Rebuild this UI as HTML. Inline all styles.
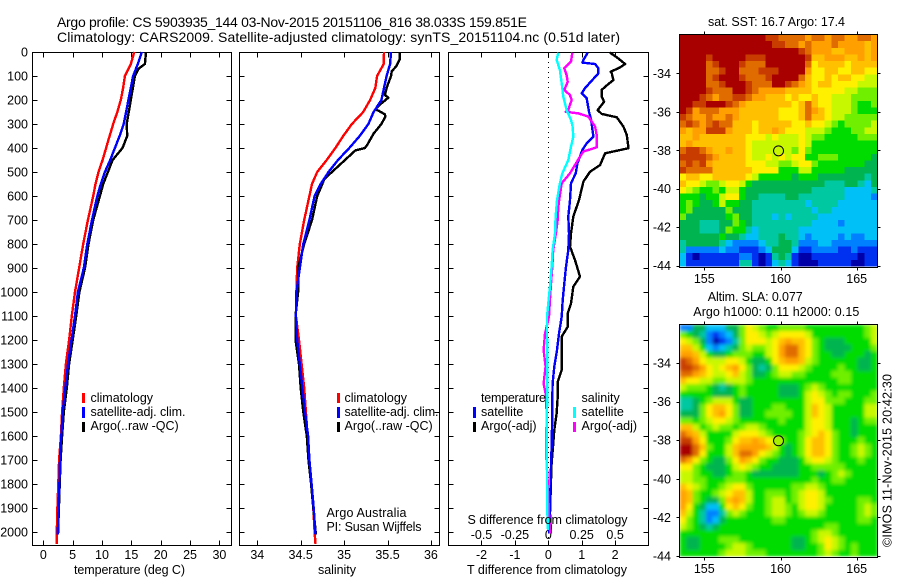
<!DOCTYPE html>
<html lang="en">
<head>
<meta charset="utf-8">
<title>Argo profile CS 5903935_144</title>
<style>
html,body{margin:0;padding:0;background:#fff;}
svg{display:block;font-family:"Liberation Sans",sans-serif;font-size:12.5px;fill:#000;}
.frame{fill:none;stroke:#000;stroke-width:1;shape-rendering:crispEdges;}
.tick{stroke:#000;stroke-width:1;shape-rendering:crispEdges;}
.line{fill:none;stroke-width:2.4;shape-rendering:crispEdges;stroke-linejoin:round;}
text{stroke:none;}
</style>
</head>
<body>
<svg id="chart" width="900" height="580" viewBox="0 0 900 580" xmlns="http://www.w3.org/2000/svg">
<defs>
<clipPath id="clip-sla"><rect x="679.5" y="324.5" width="198" height="232"/></clipPath>
<clipPath id="clip-sst"><rect x="679.5" y="34.5" width="198" height="232"/></clipPath>
<filter id="smooth" x="-5%" y="-5%" width="110%" height="110%"><feGaussianBlur stdDeviation="1.9" edgeMode="duplicate"/></filter>
</defs>
<text x="57" y="27" textLength="470" font-size="14">Argo profile: CS 5903935_144 03-Nov-2015 20151106_816 38.033S 159.851E</text>
<text x="57" y="42" textLength="563" font-size="14">Climatology: CARS2009. Satellite-adjusted climatology: synTS_20151104.nc (0.51d later)</text>

<g id="panel-temp"></g>
<g id="panel-sal"></g>
<g id="panel-diff"></g>
<g id="map-sst"></g>
<g id="map-sla"></g>

<text x="74" y="574" textLength="111">temperature (deg C)</text>
<text x="318" y="574" textLength="38">salinity</text>
<text x="467" y="574" textLength="160">T difference from climatology</text>
<text x="467.5" y="524" textLength="160">S difference from climatology</text>

<rect x="82" y="393" width="3" height="10" fill="#f00"/>
<text x="90.5" y="402">climatology</text>
<rect x="82" y="407" width="3" height="11" fill="#00f"/>
<text x="90.5" y="416" textLength="95">satellite-adj. clim.</text>
<rect x="82" y="422" width="3" height="10" fill="#000"/>
<text x="90.5" y="430">Argo(..raw -QC)</text>

<rect x="337" y="393" width="3" height="10" fill="#f00"/>
<text x="344.5" y="402">climatology</text>
<rect x="337" y="407" width="3" height="11" fill="#00f"/>
<text x="344.5" y="416" textLength="94">satellite-adj. clim.</text>
<rect x="337" y="422" width="3" height="10" fill="#000"/>
<text x="344.5" y="430">Argo(..raw -QC)</text>
<text x="326.5" y="517" textLength="80">Argo Australia</text>
<text x="326.5" y="531" textLength="95">PI: Susan Wijffels</text>

<text x="481" y="402" textLength="65">temperature</text>
<rect x="473" y="407" width="3" height="11" fill="#00f"/>
<text x="481" y="416">satellite</text>
<rect x="473" y="422" width="3" height="10" fill="#000"/>
<text x="481" y="430">Argo(-adj)</text>
<text x="581.5" y="402">salinity</text>
<rect x="573" y="407" width="3" height="11" fill="#0ff"/>
<text x="581.5" y="416">satellite</text>
<rect x="573" y="422" width="3" height="10" fill="#f0f"/>
<text x="581.5" y="430">Argo(-adj)</text>

<text x="708" y="26" textLength="137">sat. SST: 16.7  Argo: 17.4</text>
<text x="707.7" y="301" textLength="95">Altim. SLA: 0.077</text>
<text x="693.3" y="316" textLength="166">Argo h1000: 0.11  h2000: 0.15</text>
<text transform="translate(891.5,547) rotate(-90)" textLength="173">©IMOS 11-Nov-2015 20:42:30</text>
</svg>
<script>
const tickDepths = [0,100,200,300,400,500,600,700,800,900,1000,1100,1200,1300,1400,1500,1600,1700,1800,1900,2000];
const tempTicks = [0,5,10,15,20,25,30];
const salTicks = [34,34.5,35,35.5,36];
const salTickLabels = ['34','34.5','35','35.5','36'];
const diffTTicks = [-2,-1,0,1,2];
const diffSTicks = [-0.5,-0.25,0,0.25,0.5];
const diffSTickLabels = ['-0.5','-0.25','0','0.25','0.5'];
const lonTicks = [155,160,165];
const latTicks = [-34,-36,-38,-40,-42,-44];

const climDepth = [0,50,100,150,200,250,300,350,400,450,500,550,600,700,800,900,1000,1100,1200,1300,1400,1500,1600,1700,1800,1900,2000,2050];
const climTemp = [15.5,14.9,13.9,13.6,13.2,12.6,11.9,11.3,10.7,10.1,9.4,8.9,8.5,7.6,6.8,6.1,5.4,4.85,4.4,3.85,3.5,3.2,3.0,2.7,2.55,2.4,2.3,2.3];
const climSal = [35.46,35.456,35.38,35.36,35.30,35.22,35.09,34.99,34.90,34.80,34.69,34.63,34.60,34.54,34.49,34.46,34.45,34.445,34.48,34.51,34.54,34.56,34.58,34.60,34.62,34.645,34.66,34.67];

const satDepth = [0,50,100,150,200,250,300,350,400,450,500,550,600,700,800,900,1000,1100,1200,1300,1400,1500,1600,1700,1800,1900,2010];
const satTemp = [16.8,16.1,15.3,14.9,14.5,14.1,13.7,13.0,12.2,11.4,10.5,9.8,9.2,8.3,7.5,6.9,5.9,5.4,4.8,4.2,3.75,3.3,3.07,2.85,2.75,2.6,2.45];
const satSal = [35.54,35.53,35.49,35.46,35.43,35.34,35.28,35.18,35.06,34.93,34.82,34.73,34.66,34.60,34.53,34.49,34.45,34.445,34.46,34.49,34.52,34.55,34.585,34.60,34.625,34.65,34.67];

const argoTempDepth = [0,50,70,100,200,300,350,400,450,500,550,600,700,800,900,1000,1100,1200,1300,1400,1500,1600,1700,1800,1900,2010];
const argoTemp = [17.5,17.3,16.2,15.6,14.9,14.2,14.3,13.5,11.8,11.0,10.2,9.65,8.5,7.7,7.1,6.15,5.6,5.0,4.4,4.0,3.5,3.2,2.95,2.8,2.65,2.5];
const argoSalDepth = [0,30,60,80,100,150,180,190,220,240,245,260,270,300,340,385,400,410,450,500,530,550,600,700,800,900,1000,1100,1200,1300,1400,1500,1600,1700,1800,1900,2010];
const argoSal = [35.64,35.64,35.60,35.55,35.54,35.49,35.47,35.51,35.41,35.36,35.40,35.47,35.475,35.43,35.34,35.27,35.24,35.13,35.01,34.86,34.77,34.75,34.69,34.63,34.54,34.47,34.47,34.44,34.44,34.48,34.50,34.53,34.57,34.59,34.62,34.645,34.675];

const diffBlueDepth = [3,33,44,50,68,89,124,151,172,193,249,283,353,381,408,464,506,547,617,686,756,825,895,964,1034,1103,1173,1242,1311,1381,1450,1506,1645,1784,1923,2006];
const diffBlueT = [1.18,1.05,1.02,1.40,1.5,1.5,1.27,1.10,1.0,1.15,1.22,1.28,1.35,1.15,1.02,0.87,0.82,0.68,0.65,0.6,0.62,0.6,0.53,0.48,0.43,0.40,0.32,0.26,0.18,0.13,0.12,0.12,0.10,0.07,0.05,0.03];
const diffBlackDepth = [3,17,33,50,64,82,89,117,131,158,186,207,242,258,272,311,346,401,422,471,499,540,617,686,756,811,867,936,978,1048,1089,1145,1186,1242,1325,1374,1436,1506,1575,1645,1714,1784,1923,2006];
const diffBlackT = [1.85,2.0,2.15,2.3,2.15,1.87,1.9,1.95,1.82,1.6,1.6,1.67,1.48,1.6,2.05,2.25,2.35,2.4,1.7,1.55,1.25,1.05,0.92,0.75,0.68,0.65,0.8,0.95,0.75,0.68,0.58,0.58,0.4,0.4,0.4,0.28,0.28,0.25,0.18,0.14,0.1,0.08,0.05,0.08];
const diffMagentaDepth = [3,40,68,96,124,158,179,200,221,242,249,256,269,311,346,397,415,436,471,506,547,596,644,700,756,825,895,964,1034,1103,1173,1242,1311,1381,1423,1506,1666,1784,1923,2006];
const diffMagentaS = [0.18,0.17,0.12,0.137,0.145,0.12,0.162,0.175,0.162,0.15,0.13,0.225,0.30,0.35,0.362,0.362,0.262,0.237,0.2,0.162,0.1,0.087,0.075,0.07,0.057,0.037,0.03,0.02,0.012,0.005,-0.025,-0.035,-0.02,-0.035,-0.02,-0.012,-0.017,-0.005,0.005,0.015];
const diffCyanDepth = [3,33,75,131,186,242,283,311,353,394,450,506,547,617,686,756,825,895,964,1034,1103,1173,1311,1450,1506,1784,1923,1992];
const diffCyanS = [0.075,0.062,0.087,0.1,0.112,0.137,0.17,0.182,0.187,0.17,0.15,0.105,0.087,0.065,0.055,0.05,0.032,0.025,0.015,0.002,-0.01,-0.01,-0.007,-0.007,-0.012,-0.01,-0.007,-0.002];

const sstLevels = [
[14,14,14,14,14,14,14,14,14,14,14,14,14,13,13,12,12,12,12,11,12,12,11,12,12,11,11,12,12,11],
[14,14,14,14,14,14,14,14,14,14,14,14,14,14,13,13,12,12,11,12,11,11,11,12,11,11,11,11,10,11],
[14,14,14,14,14,14,14,14,14,14,14,14,14,14,14,14,14,14,13,12,11,11,11,10,10,11,11,11,10,11],
[14,14,14,14,13,14,14,14,14,14,13,13,13,14,14,14,14,14,14,13,10,10,11,11,11,10,10,11,10,11],
[14,14,14,14,12,13,14,14,14,13,12,12,12,14,14,14,14,14,14,12,9,10,10,10,10,9,10,10,10,10],
[14,14,14,14,12,12,13,14,14,12,12,12,13,13,13,14,14,14,14,11,9,9,10,10,9,9,10,10,9,9],
[14,14,14,14,12,13,14,14,14,13,12,12,12,13,14,14,14,14,12,10,9,9,10,9,10,10,9,9,8,8],
[14,14,14,14,12,12,13,14,14,14,13,12,12,12,14,14,13,12,11,10,9,10,10,9,9,9,9,8,8,8],
[14,14,14,14,13,12,12,12,14,14,13,12,11,11,11,11,10,10,10,10,9,9,9,9,9,8,8,7,7,7],
[14,14,14,13,12,11,12,12,13,13,12,11,11,10,10,10,9,10,9,9,10,9,9,8,8,8,7,7,7,7],
[14,14,13,13,14,14,14,13,12,11,10,10,10,10,10,10,10,9,10,12,10,9,9,8,8,8,7,6,6,7],
[14,13,11,12,12,12,11,11,11,10,10,10,10,10,10,9,9,9,10,12,11,10,9,8,8,8,7,6,6,6],
[13,12,11,11,12,11,11,12,11,10,10,10,10,10,10,9,9,9,10,12,10,10,9,8,8,7,7,7,7,7],
[12,13,12,11,12,13,12,12,10,10,10,9,10,10,10,10,10,9,9,10,9,9,8,7,6,7,7,7,7,8],
[11,10,11,11,13,13,13,11,10,10,10,9,10,10,11,10,9,9,9,8,8,8,7,6,6,6,7,7,8,8],
[10,10,11,10,10,10,10,10,10,10,9,9,9,8,9,8,8,8,9,8,7,7,6,6,6,6,6,7,7,7],
[10,11,10,10,10,10,10,10,10,10,9,8,8,8,8,8,8,8,9,8,6,6,6,6,6,6,6,6,6,6],
[12,13,13,12,11,10,10,11,10,10,9,8,8,8,8,8,8,7,9,7,6,6,6,6,6,6,6,6,6,6],
[13,13,13,13,12,11,10,10,10,10,9,8,8,9,8,9,8,9,9,6,6,7,7,7,6,6,6,6,6,5],
[12,13,12,13,11,10,10,10,10,10,9,9,9,8,8,7,7,8,9,9,7,6,6,6,6,6,6,6,5,5],
[13,12,12,12,12,10,10,10,10,10,10,9,9,9,9,6,6,6,8,8,6,6,6,6,6,5,5,5,5,5],
[9,10,10,9,9,10,10,10,10,10,9,8,6,6,6,6,6,5,6,6,6,5,5,5,5,5,5,5,4,5],
[10,9,9,8,7,7,8,9,9,8,6,5,5,5,5,5,5,5,5,5,5,5,4,4,4,5,5,4,3,5],
[9,8,7,6,6,7,6,8,8,6,5,5,5,5,5,5,5,5,5,5,4,4,4,4,4,3,3,3,3,4],
[6,6,6,5,6,6,8,9,9,6,5,5,4,4,4,4,5,5,4,4,4,4,4,4,4,3,3,3,3,2],
[6,7,6,5,5,6,8,6,6,5,5,4,4,4,4,4,4,4,4,3,4,4,4,4,3,3,3,3,3,3],
[6,7,5,5,5,5,5,7,5,5,5,4,4,4,4,4,4,4,4,4,3,4,4,3,3,3,3,3,3,3],
[7,5,5,5,5,5,5,6,7,5,5,4,4,4,3,4,3,4,4,4,4,3,3,3,3,3,3,3,3,3],
[5,5,5,4,4,4,5,5,7,6,5,4,4,4,4,4,4,4,4,4,3,3,3,3,2,3,3,3,3,3],
[5,5,5,4,4,4,5,7,6,6,4,3,4,4,4,4,4,4,3,3,3,3,3,3,3,3,3,3,3,3],
[5,5,5,5,5,5,6,5,5,4,3,3,4,4,4,5,4,4,3,2,3,3,3,3,2,3,2,2,3,3],
[4,5,5,5,5,5,4,3,2,2,2,2,3,4,4,5,5,4,2,2,2,3,3,2,2,2,2,2,2,2],
[4,2,2,2,2,2,3,2,2,1,1,1,2,3,5,5,5,3,1,1,2,2,2,2,1,1,2,1,1,1],
[3,1,0,1,1,1,1,1,1,2,2,1,0,1,4,5,4,1,0,0,1,1,1,1,1,1,1,0,1,1],
[3,1,1,1,1,1,1,1,1,4,4,1,0,1,3,4,3,1,0,0,0,1,1,1,1,1,0,0,1,1]
];
const slaLevels = [
[2,2,5,5,3,3,3,5,5,7,9,8,7,6,6,7,7,7,7,6,6,6,6,6,6,6,6,6,7,8],
[7,6,5,4,2,1,2,3,5,7,9,9,8,7,8,9,9,9,9,8,6,6,6,6,6,6,6,6,7,8],
[9,8,7,5,2,0,1,2,4,7,9,9,9,8,9,10,11,10,10,9,7,6,5,5,5,6,6,6,6,8],
[10,10,8,6,3,2,3,4,5,7,8,7,7,8,9,11,12,12,10,9,7,6,5,5,5,5,6,6,6,7],
[11,11,10,8,6,5,5,6,7,7,7,6,6,8,9,11,12,12,10,9,7,6,6,5,5,6,6,6,5,6],
[13,12,11,9,8,8,8,9,9,8,6,5,5,6,9,10,11,11,10,8,7,6,6,6,6,6,6,5,5,6],
[13,13,12,11,9,8,9,10,11,9,7,5,4,5,7,9,9,9,8,7,6,6,6,6,7,6,6,5,5,6],
[12,12,11,10,9,8,8,9,10,8,7,5,5,6,7,8,8,7,7,6,6,6,6,7,7,7,6,6,6,6],
[10,9,9,8,8,7,7,8,8,8,7,6,6,6,6,6,6,6,6,6,6,6,6,6,7,7,6,6,6,6],
[8,7,7,7,6,5,4,5,6,7,6,6,6,6,6,5,5,5,6,7,8,7,6,6,6,6,6,6,6,6],
[6,6,6,6,6,5,5,5,6,7,6,6,6,6,6,5,5,5,6,8,9,8,7,6,7,7,6,6,6,7],
[4,4,5,6,7,8,8,8,6,5,5,6,6,6,6,6,6,6,6,8,9,9,7,7,7,6,6,6,7,7],
[4,4,5,7,9,10,10,9,7,5,5,6,6,6,7,7,6,6,6,8,10,9,8,6,6,6,6,6,8,8],
[5,5,5,7,9,10,11,9,7,5,5,6,6,7,7,7,7,6,6,8,10,9,8,6,6,6,6,6,8,8],
[7,7,6,7,8,9,9,8,7,6,6,6,6,6,6,7,6,6,6,8,9,9,8,6,6,6,5,6,7,7],
[10,10,8,6,7,8,7,7,6,7,8,8,7,6,6,6,6,6,6,8,9,9,8,6,6,6,5,6,6,6],
[12,11,10,8,6,6,6,6,8,9,9,9,8,7,6,6,6,6,7,8,9,10,9,7,6,6,5,6,6,6],
[13,13,11,9,6,6,6,7,9,10,10,11,10,9,8,7,6,6,7,9,10,10,9,7,6,6,6,7,6,6],
[14,14,12,10,7,6,6,8,10,11,11,11,11,10,8,6,5,6,7,9,10,10,9,7,6,6,7,8,7,6],
[14,14,12,9,6,6,6,8,10,12,12,11,9,8,7,6,5,6,7,9,10,10,9,7,6,6,7,8,7,6],
[12,11,9,7,6,5,5,7,9,11,10,9,7,6,6,5,5,5,6,8,9,9,8,7,6,6,6,7,6,6],
[9,9,7,6,5,5,5,6,8,9,8,7,6,6,5,5,5,5,6,6,7,7,7,7,7,6,6,6,6,6],
[8,8,7,6,6,5,5,6,7,7,6,5,5,5,5,5,5,5,6,6,6,5,6,7,8,7,6,6,6,6],
[8,8,7,7,6,6,6,7,7,7,6,6,6,6,6,6,6,6,6,6,7,6,6,7,7,6,6,6,6,6],
[10,9,8,7,6,6,7,8,9,9,7,6,6,6,6,6,6,7,7,8,8,7,6,6,6,6,6,6,6,6],
[11,10,7,6,6,7,8,9,10,10,8,6,6,7,7,7,6,7,8,9,9,8,6,6,6,6,6,6,6,6],
[11,10,7,6,5,5,7,10,11,10,8,6,6,7,8,8,6,7,8,9,9,8,7,6,6,6,6,7,7,6],
[11,9,6,5,3,3,6,9,10,9,7,6,6,7,8,8,7,6,8,9,9,8,6,6,6,6,6,7,8,7],
[10,8,6,4,2,2,4,7,8,7,6,6,6,7,8,8,7,6,7,8,8,7,6,6,6,6,6,7,8,7],
[9,7,6,4,2,3,5,6,6,6,6,6,6,6,7,7,6,6,6,6,6,6,6,6,6,6,6,7,7,6],
[8,7,6,5,4,5,6,6,6,6,6,6,6,6,6,6,6,6,6,6,6,6,7,7,6,6,6,6,6,6],
[6,6,6,6,6,6,6,6,6,6,6,6,6,6,6,6,6,6,6,6,7,8,8,7,6,6,6,6,6,6],
[6,5,5,6,6,6,7,7,7,6,6,6,6,6,6,6,6,5,5,6,7,8,9,8,7,6,6,6,6,6],
[6,5,5,6,6,6,6,7,8,8,7,6,6,6,6,6,6,5,5,6,6,7,9,8,7,6,7,6,6,6],
[6,6,6,6,6,6,7,8,8,8,7,7,7,6,6,6,6,6,6,6,6,7,8,7,6,6,7,6,6,6]
];
const colorScale = ['#0000a8','#0030f0','#0080ff','#00c0f8','#00c8a0','#00b450','#00dc00','#70f000','#c8f800','#fff000','#ffc000','#ffa000','#e06c00','#c83c00','#a80000'];

const NS = 'http://www.w3.org/2000/svg';
const yDepth = d => 52 + 0.24 * d;
const xTemp = t => 43.3 + 5.87 * t;
const xSal = s => 257.3 + 86.8 * (s - 34);
const xDiffT = t => 548.3 + 33.4 * t;
const xDiffS = s => 548.3 + 133.6 * s;
const xLon = lon => 704.3 + 15.24 * (lon - 155);
const ySstLat = lat => 73.3 + 19.24 * (-34 - lat);
const ySlaLat = lat => 363 + 19.3 * (-34 - lat);

function mk(parent, tag, attrs) {
  const el = document.createElementNS(NS, tag);
  for (const k in attrs) el.setAttribute(k, attrs[k]);
  parent.appendChild(el);
  return el;
}
function tick(parent, x1, y1, x2, y2) {
  const el = mk(parent, 'line', {x1: Math.round(x1) + 0.5, y1: Math.round(y1) + 0.5, x2: Math.round(x2) + 0.5, y2: Math.round(y2) + 0.5, class: 'tick'});
  
  
}
function label(parent, x, y, txt, anchor) {
  const el = mk(parent, 'text', {x: x, y: y, 'text-anchor': anchor});
  el.textContent = txt;
  
  
}
function frame(parent, x0, y0, x1, y1) {
  const el = mk(parent, 'rect', {x: x0 + 0.5, y: y0 + 0.5, width: x1 - x0, height: y1 - y0, class: 'frame'});
  
  
}
function series(parent, xs, depths, xFn, color, name) {
  const pts = xs.map((v, i) => xFn(v).toFixed(1) + ',' + yDepth(depths[i]).toFixed(1)).join(' ');
  const el = mk(parent, 'polyline', {points: pts, stroke: color, class: 'line'});
  
  
}
function profileAxes(g, x0, x1, xTicks, xFn, labels) {
  frame(g, x0, 52, x1, 545);
  tickDepths.forEach(d => {
    tick(g, x0, yDepth(d), x0 + 5, yDepth(d));
    tick(g, x1, yDepth(d), x1 - 5, yDepth(d));
  });
  xTicks.forEach((t, i) => {
    tick(g, xFn(t), 52, xFn(t), 57);
    tick(g, xFn(t), 545, xFn(t), 540);
    label(g, xFn(t), 559, labels[i], 'middle');
  });
}

/* temperature panel */
const gT = document.getElementById('panel-temp');
profileAxes(gT, 32, 231, tempTicks, xTemp, tempTicks.map(String));
tickDepths.forEach(d => label(gT, 28, yDepth(d) + 4.5, String(d), 'end'));
series(gT, climTemp, climDepth, xTemp, '#f00', 'temperature-climatology-line');
series(gT, argoTemp, argoTempDepth, xTemp, '#000', 'temperature-argo-line');
series(gT, satTemp, satDepth, xTemp, '#00f', 'temperature-satellite-line');

/* salinity panel */
const gS = document.getElementById('panel-sal');
profileAxes(gS, 239, 439, salTicks, xSal, salTickLabels);
series(gS, climSal, climDepth, xSal, '#f00', 'salinity-climatology-line');
series(gS, argoSal, argoSalDepth, xSal, '#000', 'salinity-argo-line');
series(gS, satSal, satDepth, xSal, '#00f', 'salinity-satellite-line');

/* difference panel */
const gD = document.getElementById('panel-diff');
profileAxes(gD, 448, 648, diffTTicks, xDiffT, diffTTicks.map(String));
diffSTicks.forEach((s, i) => label(gD, xDiffS(s), 539, diffSTickLabels[i], 'middle'));
const zeroLine = mk(gD, 'line', {x1: 548.5, y1: 52, x2: 548.5, y2: 545, stroke: '#000', 'stroke-width': 1, 'stroke-dasharray': '1 4', 'shape-rendering': 'crispEdges'});


series(gD, diffBlackT, diffBlackDepth, xDiffT, '#000', 'difference-t-argo-line');
series(gD, diffBlueT, diffBlueDepth, xDiffT, '#00f', 'difference-t-satellite-line');
series(gD, diffMagentaS, diffMagentaDepth, xDiffS, '#f0f', 'difference-s-argo-line');
series(gD, diffCyanS, diffCyanDepth, xDiffS, '#0ff', 'difference-s-satellite-line');

/* maps */
function heatmap(g, grid, x0, y0, w, h, smooth, clipId, cellName) {
  const rows = grid.length, cols = grid[0].length;
  const cw = w / cols, ch = h / rows;
  const holder = mk(g, 'g', {'clip-path': 'url(#' + clipId + ')'});
  
  
  const inner = mk(holder, 'g', smooth ? {filter: 'url(#smooth)'} : {});
  
  
  grid.forEach((row, r) => row.forEach((v, c) => {
    const cell = mk(inner, 'rect', {x: (x0 + c * cw).toFixed(2), y: (y0 + r * ch).toFixed(2), width: (cw + 0.4).toFixed(2), height: (ch + 0.4).toFixed(2), fill: colorScale[v], 'shape-rendering': 'crispEdges'});
    
    
  }));
}
function mapAxes(g, x0, y0, x1, y1, yFn, labelBase) {
  frame(g, x0, y0, x1, y1);
  lonTicks.forEach(lon => {
    tick(g, xLon(lon), y0, xLon(lon), y0 - 3);
    tick(g, xLon(lon), y1, xLon(lon), y1 + 3);
    label(g, xLon(lon), labelBase, String(lon), 'middle');
  });
  latTicks.forEach(lat => {
    tick(g, x0, yFn(lat), x0 - 3, yFn(lat));
    tick(g, x1, yFn(lat), x1 + 3, yFn(lat));
    label(g, 671, yFn(lat) + 4.5, String(lat), 'end');
  });
}
function marker(g, lon, lat, yFn, fill) {
  const el = mk(g, 'circle', {cx: xLon(lon), cy: yFn(lat), r: 5, fill: fill, stroke: '#000', 'stroke-width': 1});
  
  
}
const gM1 = document.getElementById('map-sst');
heatmap(gM1, sstLevels, 679.5, 34.5, 198, 232, false, 'clip-sst', 'sst-cell');
mapAxes(gM1, 679, 34, 877, 267, ySstLat, 283);
marker(gM1, 159.87, -38.03, ySstLat, 'none');
const gM2 = document.getElementById('map-sla');
heatmap(gM2, slaLevels, 679.5, 324.5, 198, 232, true, 'clip-sla', 'sla-cell');
mapAxes(gM2, 679, 324, 877, 557, ySlaLat, 573);
marker(gM2, 159.87, -38.03, ySlaLat, '#a8f000');
</script>
</body>
</html>
